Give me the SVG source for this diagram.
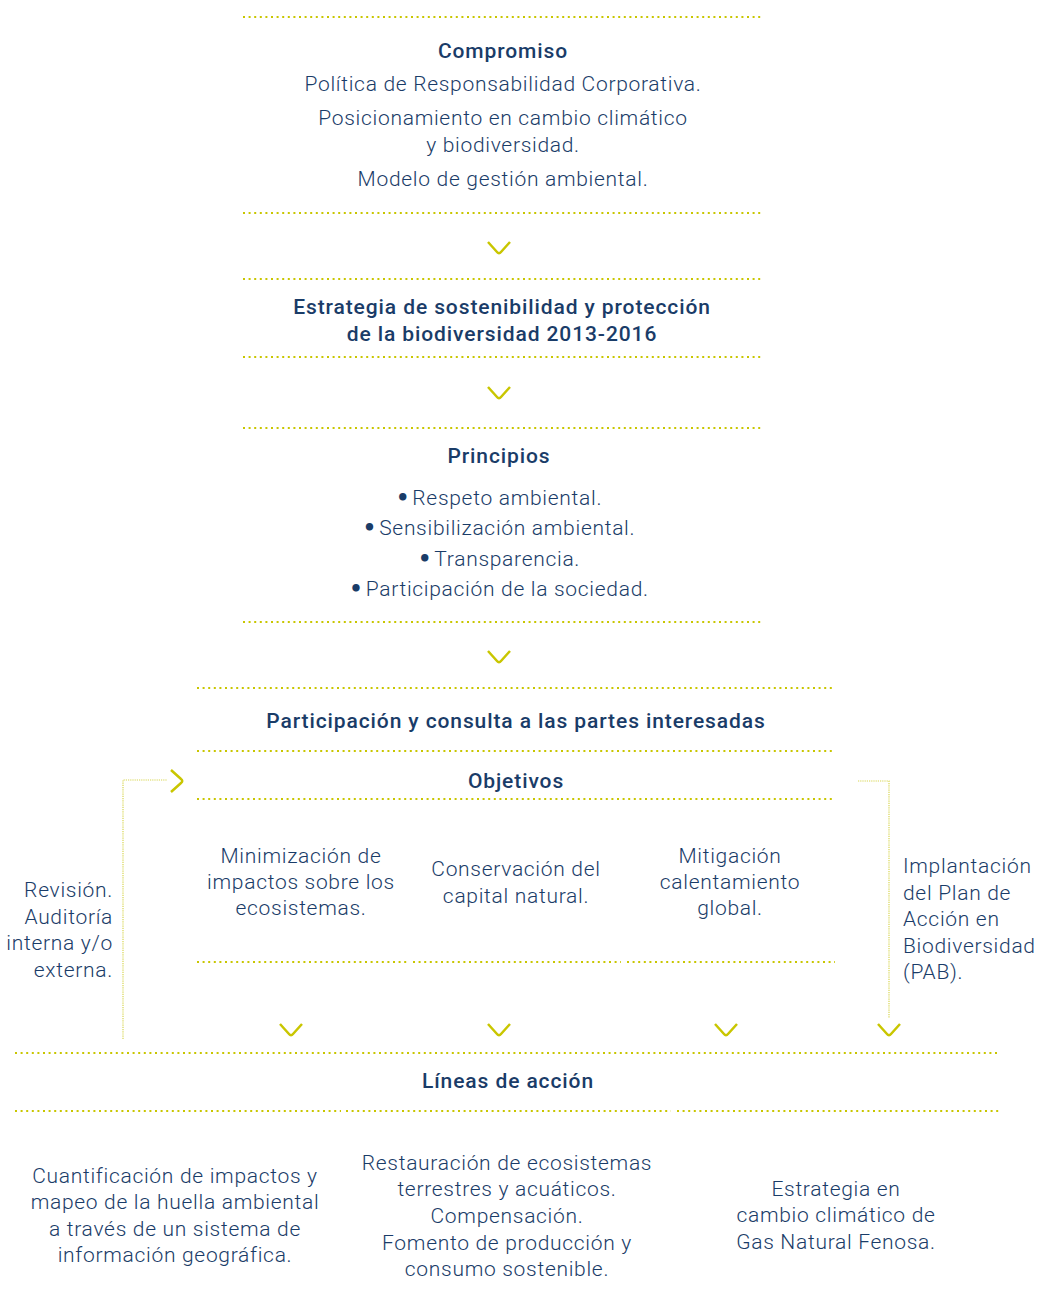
<svg xmlns="http://www.w3.org/2000/svg" width="1040" height="1313" viewBox="0 0 1040 1313">
<style>
.t{font-family:Roboto,"Liberation Sans",sans-serif;font-weight:300;font-size:21px;letter-spacing:0.7px;fill:#1a3c68;text-anchor:middle}
.h{font-weight:500;letter-spacing:0.9px}
.b{font-family:"DejaVu Sans",sans-serif;font-weight:700;font-size:21px;letter-spacing:0}
.r{text-anchor:end}
.l{text-anchor:start}
.d{stroke:#c9c600;stroke-width:2.2;stroke-dasharray:2 3.6;fill:none}
.c{stroke:#c9c600;stroke-width:2.5;fill:none;stroke-linecap:butt}
.f{stroke:#d8d550;stroke-width:1.2;stroke-dasharray:1.2 1;fill:none}
</style>
<rect width="1040" height="1313" fill="#fff"/>
<g id="connectors">
<path class="c" d="M488,242 L497,252 Q499,254.5 501,252 L510,242"/>
<path class="c" d="M488,387 L497,397 Q499,399.5 501,397 L510,387"/>
<path class="c" d="M488,651 L497,661 Q499,663.5 501,661 L510,651"/>
<path class="c" d="M280,1024 L289,1034 Q291,1036.5 293,1034 L302,1024"/>
<path class="c" d="M488,1024 L497,1034 Q499,1036.5 501,1034 L510,1024"/>
<path class="c" d="M715,1024 L724,1034 Q726,1036.5 728,1034 L737,1024"/>
<path class="c" d="M878,1024 L887,1034 Q889,1036.5 891,1034 L900,1024"/>
<path class="c" d="M171,770 L181,779 Q183.5,781 181,783 L171,792"/>
<path class="f" d="M123,1039 V780 H167"/>
<path class="f" d="M858,781 H889 V1018"/>
</g>
<g id="compromiso">
<line class="d" x1="243" y1="17" x2="762" y2="17"/>
<text class="t h" x="503" y="58">Compromiso</text>
<text class="t" x="503" y="91">Política de Responsabilidad Corporativa.</text>
<text class="t" x="503" y="125">Posicionamiento en cambio climático</text>
<text class="t" x="503" y="152">y biodiversidad.</text>
<text class="t" x="503" y="186">Modelo de gestión ambiental.</text>
<line class="d" x1="243" y1="213" x2="762" y2="213"/>
</g>
<g id="estrategia">
<line class="d" x1="243" y1="279" x2="762" y2="279"/>
<text class="t h" x="502" y="314">Estrategia de sostenibilidad y protección</text>
<text class="t h" x="502" y="341">de la biodiversidad 2013-2016</text>
<line class="d" x1="243" y1="357" x2="762" y2="357"/>
</g>
<g id="principios">
<line class="d" x1="243" y1="428" x2="762" y2="428"/>
<text class="t h" x="499" y="463">Principios</text>
<text class="t" x="499" y="505"><tspan class="b">•</tspan><tspan dx="3">Respeto ambiental.</tspan></text>
<text class="t" x="499" y="535"><tspan class="b">•</tspan><tspan dx="3">Sensibilización ambiental.</tspan></text>
<text class="t" x="499" y="566"><tspan class="b">•</tspan><tspan dx="3">Transparencia.</tspan></text>
<text class="t" x="499" y="596"><tspan class="b">•</tspan><tspan dx="3">Participación de la sociedad.</tspan></text>
<line class="d" x1="243" y1="622" x2="762" y2="622"/>
</g>
<g id="participacion">
<line class="d" x1="197" y1="688" x2="835" y2="688"/>
<text class="t h" x="516" y="728">Participación y consulta a las partes interesadas</text>
<line class="d" x1="197" y1="751" x2="835" y2="751"/>
</g>
<g id="objetivos">
<text class="t h" x="516" y="788">Objetivos</text>
<line class="d" x1="197" y1="799" x2="835" y2="799"/>
</g>
<g id="obj1">
<text class="t" x="301" y="863">Minimización de</text>
<text class="t" x="301" y="889">impactos sobre los</text>
<text class="t" x="301" y="915">ecosistemas.</text>
<line class="d" x1="197" y1="962" x2="408" y2="962"/>
</g>
<g id="obj2">
<text class="t" x="516" y="876">Conservación del</text>
<text class="t" x="516" y="903">capital natural.</text>
<line class="d" x1="413" y1="962" x2="621" y2="962"/>
</g>
<g id="obj3">
<text class="t" x="730" y="863">Mitigación</text>
<text class="t" x="730" y="889">calentamiento</text>
<text class="t" x="730" y="915">global.</text>
<line class="d" x1="627" y1="962" x2="835" y2="962"/>
</g>
<g id="revision">
<text class="t r" x="113" y="897">Revisión.</text>
<text class="t r" x="113" y="924">Auditoría</text>
<text class="t r" x="113" y="950">interna y/o</text>
<text class="t r" x="113" y="977">externa.</text>
</g>
<g id="implantacion">
<text class="t l" x="903" y="873">Implantación</text>
<text class="t l" x="903" y="900">del Plan de</text>
<text class="t l" x="903" y="926">Acción en</text>
<text class="t l" x="903" y="953">Biodiversidad</text>
<text class="t l" x="903" y="979">(PAB).</text>
</g>
<g id="lineas">
<line class="d" x1="15" y1="1053" x2="1000" y2="1053"/>
<text class="t h" x="508" y="1088">Líneas de acción</text>
</g>
<g id="linea1">
<line class="d" x1="15" y1="1111" x2="341" y2="1111"/>
<text class="t" x="175" y="1183">Cuantificación de impactos y</text>
<text class="t" x="175" y="1209">mapeo de la huella ambiental</text>
<text class="t" x="175" y="1236">a través de un sistema de</text>
<text class="t" x="175" y="1262">información geográfica.</text>
</g>
<g id="linea2">
<line class="d" x1="346" y1="1111" x2="671" y2="1111"/>
<text class="t" x="507" y="1170">Restauración de ecosistemas</text>
<text class="t" x="507" y="1196">terrestres y acuáticos.</text>
<text class="t" x="507" y="1223">Compensación.</text>
<text class="t" x="507" y="1250">Fomento de producción y</text>
<text class="t" x="507" y="1276">consumo sostenible.</text>
</g>
<g id="linea3">
<line class="d" x1="677" y1="1111" x2="1000" y2="1111"/>
<text class="t" x="836" y="1196">Estrategia en</text>
<text class="t" x="836" y="1222">cambio climático de</text>
<text class="t" x="836" y="1249">Gas Natural Fenosa.</text>
</g>
</svg>
